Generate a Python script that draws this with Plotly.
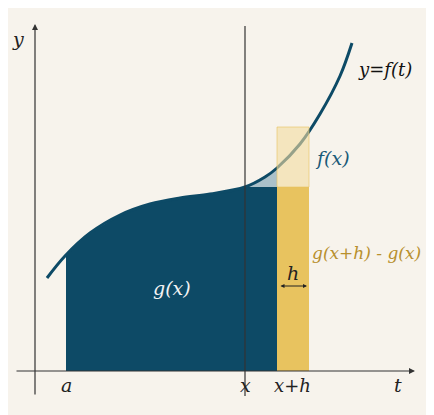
import numpy as np
import plotly.graph_objects as go

curve_t = [47, 65, 90, 120, 150, 180, 210, 245, 265, 277, 300, 320, 340, 352]
curve_f = [138, 160, 183, 201, 212, 218, 222, 229, 239, 248, 272, 302, 340, 373]
a, x, xh = 66, 245, 277
x_end = 309
base = 45
fx = 229
top_light = 289

BG = "#f7f3ec"
DARK = "#0d4a66"
GOLD = "#e8c35f"
FONT = "DejaVu Serif"

t = np.array(curve_t)
f = np.array(curve_f)

fig = go.Figure()

# area under curve a..x, then flat at f(x) up to xh
ta = [a] + [v for v in curve_t if a < v <= x]
fa = [float(np.interp(a, t, f))] + [curve_f[i] for i, v in enumerate(curve_t) if a < v <= x]
px = ta + [xh, xh, a]
py = fa + [fx, base, base]
fig.add_trace(go.Scatter(x=px, y=py, fill="toself", fillcolor=DARK, line=dict(width=0), mode="lines", hoverinfo="skip"))

# light sliver between curve and f(x) from x to xh
ts = [v for v in curve_t if x <= v <= xh]
fs = [curve_f[i] for i, v in enumerate(curve_t) if x <= v <= xh]
fig.add_trace(go.Scatter(x=ts + [xh], y=fs + [fx], fill="toself", fillcolor="rgba(120,160,180,0.6)",
                         line=dict(width=0), mode="lines", hoverinfo="skip"))

# gold strip
fig.add_shape(type="rect", x0=xh, x1=x_end, y0=base, y1=fx, fillcolor=GOLD, line=dict(width=0))

# curve
fig.add_trace(go.Scatter(x=curve_t, y=curve_f, mode="lines", line=dict(color=DARK, width=3, shape="spline"),
                         hoverinfo="skip"))

# light top of strip, drawn over the curve
fig.add_shape(type="rect", x0=xh, x1=x_end, y0=fx, y1=top_light, fillcolor="rgba(242,220,160,0.6)",
              line=dict(color="rgba(232,195,95,0.6)", width=1), layer="above")

# axes and x line
fig.add_shape(type="line", x0=x, x1=x, y0=20, y1=390, line=dict(color="#333", width=1.2))
fig.add_annotation(x=35, y=392, ax=35, ay=20, xref="x", yref="y", axref="x", ayref="y",
                   showarrow=True, arrowhead=2, arrowsize=1, arrowwidth=1.2, arrowcolor="#333", text="")
fig.add_annotation(x=415, y=base, ax=15, ay=base, xref="x", yref="y", axref="x", ayref="y",
                   showarrow=True, arrowhead=2, arrowsize=1, arrowwidth=1.2, arrowcolor="#333", text="")
# h arrow
fig.add_annotation(x=307, y=130, ax=279, ay=130, xref="x", yref="y", axref="x", ayref="y",
                   showarrow=True, arrowhead=2, arrowside="end+start", arrowsize=0.8, arrowwidth=1,
                   arrowcolor="#222", text="")

labels = [
    (18, 377, "y", "#222", 19), (398, 31, "t", "#222", 19), (66, 31, "a", "#222", 19),
    (245, 31, "x", "#222", 19), (292, 31, "x+h", "#222", 18), (385, 347, "y=f(t)", "#111", 18),
    (332, 258, "f(x)", "#1a5a78", 19), (366, 163, "g(x+h) - g(x)", "#b8902e", 17),
    (293, 143, "h", "#222", 19), (172, 128, "g(x)", "#f3f3f3", 19),
]
for lx, ly, txt, col, sz in labels:
    fig.add_annotation(x=lx, y=ly, text="<i>" + txt + "</i>", showarrow=False,
                       font=dict(family=FONT, size=sz, color=col))

fig.update_xaxes(range=[8, 442], visible=False)
fig.update_yaxes(range=[-7, 408], visible=False)
fig.update_layout(width=434, height=415, margin=dict(l=0, r=0, t=0, b=0),
                  paper_bgcolor=BG, plot_bgcolor=BG, showlegend=False)
fig.write_html("out.html")
